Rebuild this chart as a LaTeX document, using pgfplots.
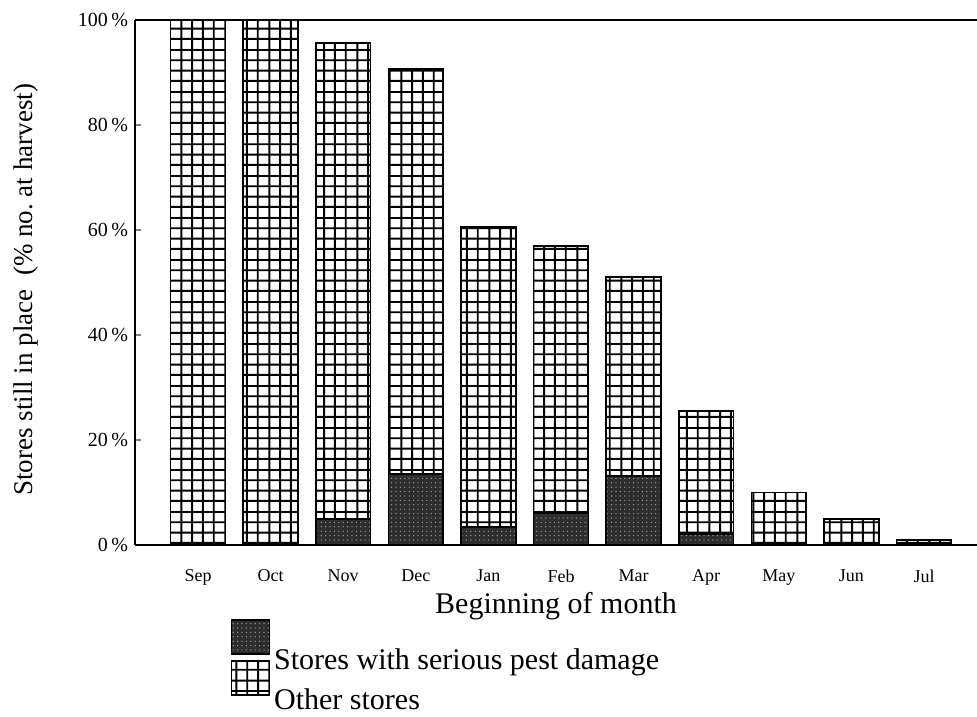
\documentclass[border=0pt]{standalone}
\usepackage{fontspec}
\setmainfont{Liberation Serif}
\usepackage{pgfplots}
\pgfplotsset{compat=1.18}
\usetikzlibrary{patterns,patterns.meta}

\tikzdeclarepattern{
  name=storegrid,
  type=uncolored,
  bounding box={(0pt,0pt) and (22pt,21pt)},
  tile size={(22pt,21pt)},
  code={
    \foreach \k in {0,1,2,3}{
      \draw[line width=0.95pt] (-1pt,{2.625pt+\k*5.25pt}) -- (23pt,{2.625pt+\k*5.25pt});
      \draw[line width=0.95pt] ({2.75pt+\k*5.5pt},-1pt) -- ({2.75pt+\k*5.5pt},22pt);
    }
  }
}

\pgfplotsset{
  squarelegend/.style={legend image code/.code={\draw[##1] (0pt,3pt) rectangle (19pt,20pt);}}
}

\pgfplotstableread{
x  pest other
0  0     100
1  0     100
2  5     90.6
3  13.5  77.2
4  3.4   57.2
5  6     51
6  13.1  37.9
7  2.1   23.4
8  0     10
9  0     5
10 0     1
}\storedata

\begin{document}
\begin{tikzpicture}
\begin{axis}[
  scale only axis,
  width=421pt, height=262.5pt,
  xmin=-0.868, xmax=10.73,
  ymin=0, ymax=100,
  ybar stacked,
  bar width=0.757,
  axis x line=bottom, axis y line=left,
  axis line style={-, line width=1pt},
  xtick={0,...,10},
  xticklabels={Sep,Oct,Nov,Dec,Jan,Feb,Mar,Apr,May,Jun,Jul},
  major x tick style={draw=none},
  xticklabel style={font=\fontsize{9}{10}\selectfont, yshift=-9pt},
  ytick={0,20,40,60,80,100},
  yticklabels={0\,\%,20\,\%,40\,\%,60\,\%,80\,\%,100\,\%},
  yticklabel style={font=\fontsize{10}{11}\selectfont},
  tick align=inside,
  major tick length=3pt,
  ytick style={line width=0.8pt},
  xlabel={Beginning of month},
  xlabel style={font=\fontsize{15}{17}\selectfont, at={(axis description cs:0.5,-0.117)}, anchor=center},
  ylabel={Stores still in place\ \ (\% no.\ at harvest)},
  ylabel style={font=\fontsize{13.5}{15}\selectfont, at={(axis description cs:-0.13,0.486)}, anchor=center},
  legend style={draw=none, fill=none, at={(axis description cs:0.113,-0.141)}, anchor=north west,
    font=\fontsize{15}{17}\selectfont, cells={anchor=west}, row sep=-8pt, inner sep=0pt},
]
\addplot[draw=black, line width=0.8pt, fill=black!82,
  postaction={pattern={Dots[distance=2.2pt,radius=0.35pt]}, pattern color=black!40},
  squarelegend]
  table[x=x, y=pest] {\storedata};
\addlegendentry{Stores with serious pest damage}
\addplot[draw=black, line width=0.8pt, fill=white,
  postaction={pattern=storegrid, pattern color=black},
  squarelegend]
  table[x=x, y=other] {\storedata};
\addlegendentry{Other stores}
\draw[line width=1pt] (rel axis cs:0,1) -- (rel axis cs:1,1);
\coordinate (sw) at (rel axis cs:0,0);
\coordinate (ne) at (rel axis cs:1,1);
\end{axis}
\pgfresetboundingbox
\path (sw) ++(-67.5pt,-85.5pt) rectangle ([yshift=10pt]ne);
\end{tikzpicture}
\end{document}
